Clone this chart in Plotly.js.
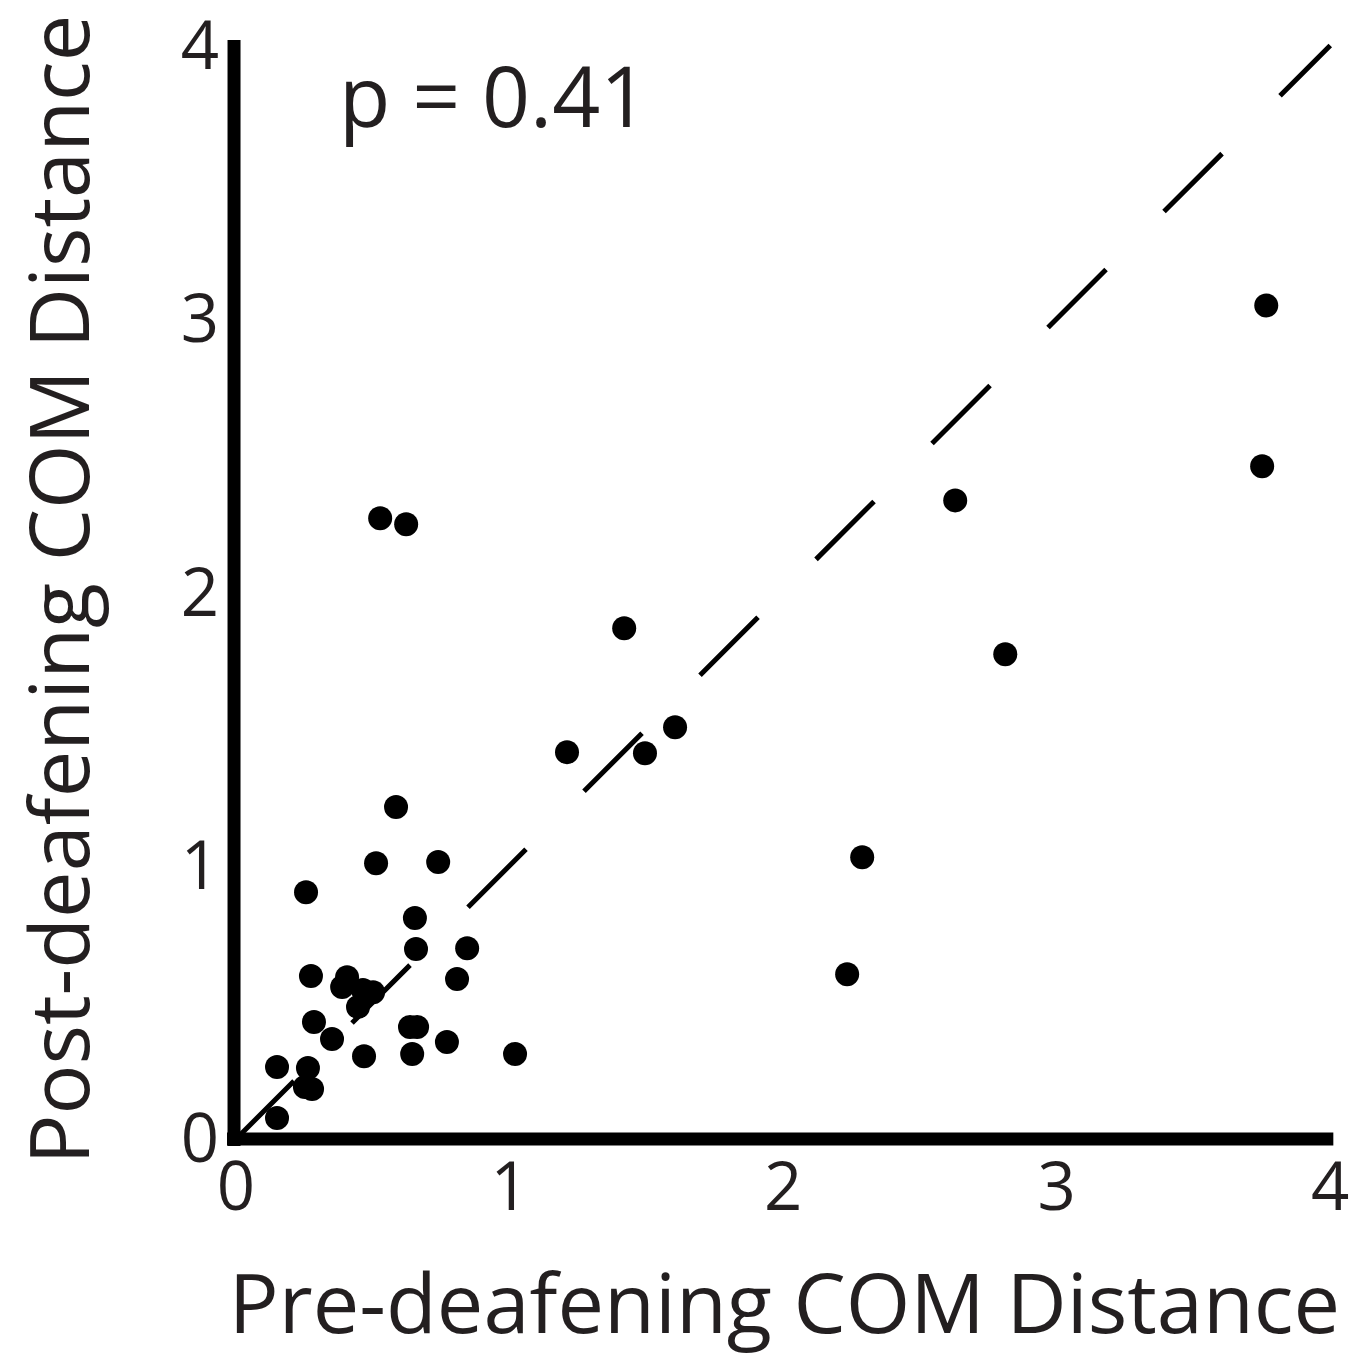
<!DOCTYPE html>
<html><head><meta charset="utf-8">
<script src="https://cdn.plot.ly/plotly-3.0.1.min.js"></script>
<style>html,body{margin:0;padding:0;background:#fff}</style>
</head><body>
<div id="chart" style="width:1358px;height:1357px"></div>
<script>
// Pre- vs post-deafening centre-of-mass distance, one point per syllable
const preDistance = [0.150, 0.150, 0.263, 0.252, 0.278, 0.256, 0.274, 0.285, 0.351, 0.406,
  0.388, 0.464, 0.501, 0.446, 0.468, 0.512, 0.527, 0.622, 0.585, 0.636,
  0.662, 0.644, 0.654, 0.658, 0.739, 0.771, 0.808, 0.845, 1.020, 1.210,
  1.419, 1.495, 1.605, 2.234, 2.289, 2.629, 2.812, 3.751, 3.766];
const postDistance = [0.077, 0.263, 0.260, 0.190, 0.183, 0.903, 0.596, 0.428, 0.366, 0.592,
  0.556, 0.545, 0.537, 0.483, 0.303, 1.009, 2.271, 2.249, 1.214, 0.410,
  0.410, 0.311, 0.808, 0.695, 1.013, 0.355, 0.585, 0.698, 0.311, 1.415,
  1.868, 1.411, 1.506, 0.603, 1.031, 2.336, 1.773, 2.461, 3.049];
const identityX = [0, 4];
const identityY = [0, 4];
const tickVals = [0, 1, 2, 3, 4];
const tickText = ['0', '1', '2', '3', '4'];
const xTitle = 'Pre-deafening COM Distance';
const yTitle = 'Post-deafening COM Distance';
const pLabel = 'p = 0.41';
const pLabelPos = [0.37, 3.82];

const textColor = '#231f20';
const fontFam = '"Open Sans", "Noto Sans", sans-serif';

const traces = [
  {
    x: identityX, y: identityY, type: 'scatter', mode: 'lines',
    line: {color: '#000', width: 5, dash: '82px,82px'},
    hoverinfo: 'skip', showlegend: false
  },
  {
    x: preDistance, y: postDistance, type: 'scatter', mode: 'markers',
    marker: {color: '#000', size: 24, line: {width: 0}},
    showlegend: false
  }
];

const axisCommon = {
  tickvals: tickVals, ticktext: tickText,
  showgrid: false, zeroline: false, showline: false, ticks: '',
  tickfont: {family: fontFam, size: 67, color: textColor},
  ticklabeloverflow: 'allow',
  automargin: false, fixedrange: true
};

const layout = {
  width: 1358, height: 1357,
  margin: {l: 236, r: 25.3, t: 39.5, b: 218},
  paper_bgcolor: '#fff', plot_bgcolor: '#fff',
  showlegend: false,
  xaxis: Object.assign({}, axisCommon, {
    range: [0, 4.01],
    title: {text: xTitle, font: {family: fontFam, size: 83, color: textColor}, standoff: 65},
    ticklabelstandoff: 3
  }),
  yaxis: Object.assign({}, axisCommon, {
    range: [0, 4.02],
    title: {text: yTitle, font: {family: fontFam, size: 83, color: textColor}, standoff: 117},
    ticklabelstandoff: 16
  }),
  shapes: [
    // thick L-shaped axes
    {type: 'line', xref: 'paper', yref: 'paper', x0: -0.0018, x1: -0.0018, y0: -0.0064, y1: 1,
     line: {color: '#000', width: 13}},
    {type: 'line', xref: 'paper', yref: 'paper', x0: -0.0082, x1: 1.0003, y0: 0, y1: 0,
     line: {color: '#000', width: 13}}
  ],
  annotations: [{
    x: pLabelPos[0], y: pLabelPos[1], xref: 'x', yref: 'y',
    text: pLabel, showarrow: false, xanchor: 'left', yanchor: 'middle',
    font: {family: fontFam, size: 84, color: textColor}
  }]
};

Plotly.newPlot('chart', traces, layout, {displayModeBar: false, staticPlot: true});
</script>
</body></html>
